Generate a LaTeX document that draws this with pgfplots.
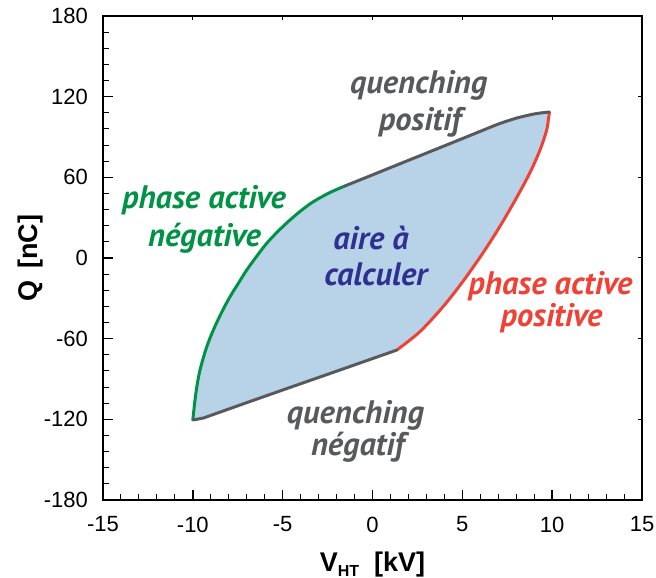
\documentclass[border=0pt]{standalone}
\usepackage{pgfplots}
\pgfplotsset{compat=1.18}
\usepackage{fontspec}
\setmainfont{Liberation Sans}
\newfontfamily\annot{PT Sans}
\newcommand\afont{\annot\bfseries\itshape\fontsize{32.5}{38}\selectfont}
\definecolor{fillblue}{HTML}{B8D3E8}
\definecolor{cgreen}{HTML}{009245}
\definecolor{cred}{HTML}{EF4136}
\definecolor{cgray}{HTML}{58595B}
\definecolor{cblue}{HTML}{2E3192}
\begin{document}
\begin{tikzpicture}
\useasboundingbox (0,0) rectangle (656pt,578pt);
\begin{axis}[
  at={(103pt,78pt)}, anchor=south west,
  scale only axis, width=539pt, height=484pt,
  xmin=-15, xmax=15, ymin=-180, ymax=180,
  xtick={-15,-10,...,15}, ytick={-180,-120,...,180},
  minor x tick num=4, minor y tick num=4,
  xtick pos=left, ytick pos=left,
  tick align=inside,
  major tick length=10pt, minor tick length=6pt,
  every tick/.style={black, line width=1.5pt},
  minor tick style={line width=1pt},
  axis line style={line width=2pt},
  /pgf/number format/assume math mode=true,
  tick label style={font=\fontsize{22}{26}\selectfont},
  yticklabel style={inner sep=0pt, xshift=-15pt},
  xticklabel style={inner sep=0pt, yshift=-16.5pt},
  xlabel={V\raisebox{-5pt}{\fontsize{16}{16}\selectfont HT}\hspace{15pt}[kV]},
  ylabel={Q\hspace{12pt}[nC]},
  label style={font=\bfseries\fontsize{27}{32}\selectfont},
  xlabel style={at={(axis description cs:0.5,-0.1467)}, anchor=base},
  ylabel style={at={(axis description cs:-0.1206,0.5)}, anchor=base},
]
% filled area
\addplot[fill=fillblue, draw=none] coordinates {
 (-10,-120.5) (-9.9,-108) (-9.78,-96) (-9.6,-83.3) (-9.25,-67) (-8.86,-53.6)
 (-8.4,-40.5) (-7.93,-28.8) (-7.45,-18.5) (-7.0,-8.9) (-6.45,1.2) (-5.89,10.9)
 (-5.25,20) (-4.59,28.3) (-3.95,35.5) (-3.29,41.9) (-2.4,48.5) (-1.53,53.6)
 (0.05,62.1) (1.9,72.1) (3.76,82.1) (5.61,92.1) (7.0,99.6) (8.0,104) (8.95,107.0) (9.45,108.0) (9.85,108.6)
 (9.80,104) (9.69,95) (9.32,80.2) (8.76,63.4) (8.02,44.9) (7.10,23.7) (6.17,4.2)
 (5.05,-17.1) (3.94,-36) (2.64,-54.8) (1.35,-68.5)
 (-2,-84.2) (-5.15,-98.9) (-7,-107.6) (-8.86,-116.4) (-9.4,-119)
} -- cycle;
% phase active negative
\addplot[cgreen, line width=3pt, smooth, tension=0.5] coordinates {
 (-10,-120.5) (-9.9,-108) (-9.78,-96) (-9.6,-83.3) (-9.25,-67) (-8.86,-53.6)
 (-8.4,-40.5) (-7.93,-28.8) (-7.45,-18.5) (-7.0,-8.9) (-6.45,1.2) (-5.89,10.9)
 (-5.25,20) (-4.59,28.3) (-3.95,35.5) (-3.29,41.9) (-2.4,48.5) (-1.53,53.6)
};
% phase active positive
\addplot[cred, line width=3pt, smooth, tension=0.5] coordinates {
 (9.85,108.6) (9.80,104) (9.69,95) (9.32,80.2) (8.76,63.4) (8.02,44.9) (7.10,23.7) (6.17,4.2)
 (5.05,-17.1) (3.94,-36) (2.64,-54.8) (1.35,-68.5)
};
% quenching positif
\addplot[cgray, line width=3pt, smooth, tension=0.4, line cap=round] coordinates {
 (-1.53,53.6) (0.05,62.1) (1.9,72.1) (3.76,82.1) (5.61,92.1) (7.0,99.6) (8.0,104) (8.95,107.0) (9.45,108.0) (9.85,108.6)
};
% quenching negatif
\addplot[cgray, line width=3pt, line join=round, line cap=round] coordinates {
 (1.35,-68.5) (-2,-84.2) (-5.15,-98.9) (-7,-107.6) (-8.86,-116.4) (-9.4,-119) (-10,-120.5)
};
\node[font=\afont, text=cgray, anchor=base] at (axis cs:2.57,122.5) {quenching};
\node[font=\afont, text=cgray, anchor=base] at (axis cs:2.64,94.7) {positif};
\node[font=\afont, text=cgreen, anchor=base] at (axis cs:-9.38,36.5) {phase active};
\node[font=\afont, text=cgreen, anchor=base] at (axis cs:-9.35,8.2) {négative};
\node[font=\afont, text=cblue, anchor=base] at (axis cs:-0.08,6.0) {aire à};
\node[font=\afont, text=cblue, anchor=base] at (axis cs:0.19,-20.1) {calculer};
\node[font=\afont, text=cred, anchor=base] at (axis cs:9.9,-26.8) {phase active};
\node[font=\afont, text=cred, anchor=base] at (axis cs:9.96,-51.3) {positive};
\node[font=\afont, text=cgray, anchor=base] at (axis cs:-0.95,-123) {quenching};
\node[font=\afont, text=cgray, anchor=base] at (axis cs:-0.83,-146.6) {négatif};
\end{axis}
\begin{axis}[
  at={(103pt,78pt)}, anchor=south west,
  scale only axis, width=539pt, height=484pt,
  xmin=-15, xmax=15, ymin=-180, ymax=180,
  xtick={-15,-10,...,15}, ytick={-180,-120,...,180},
  xtick pos=right, ytick pos=right,
  xticklabels={}, yticklabels={},
  tick align=inside,
  major tick length=4pt,
  every tick/.style={black, line width=1pt},
  axis line style={line width=2pt},
]
\end{axis}
\end{tikzpicture}
\end{document}
